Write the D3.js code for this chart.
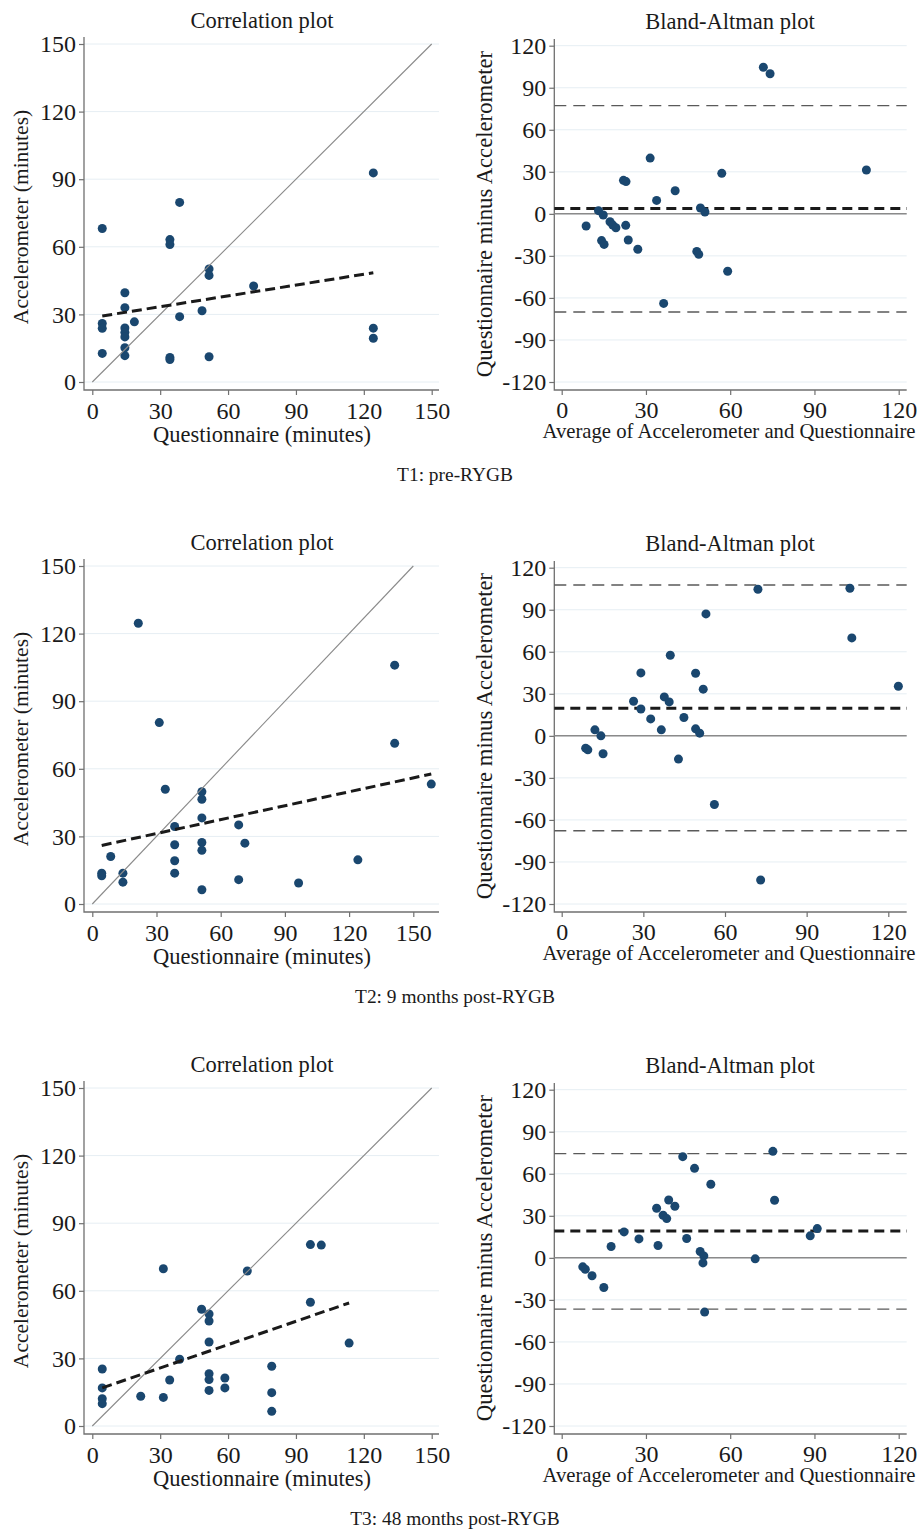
<!DOCTYPE html>
<html>
<head>
<meta charset="utf-8">
<script src="https://cdn.jsdelivr.net/npm/d3@7"></script>
<style>
  body { margin: 0; background: #fff; }
  text { font-family: "Liberation Serif", "DejaVu Serif", serif; fill: #1a1a1a; }
</style>
</head>
<body>
<script>
// ---- data ----
const captions = ["T1: pre-RYGB", "T2: 9 months post-RYGB", "T3: 48 months post-RYGB"];
const corrTicks = [0, 30, 60, 90, 120, 150];
const baXTicks = [0, 30, 60, 90, 120];
const baYTicks = [-120, -90, -60, -30, 0, 30, 60, 90, 120];

// T1
const t1Quest = [4.4, 4.4, 4.4, 4.4, 14.4, 14.4, 14.4, 14.4, 14.4, 14.4, 14.4, 18.6, 34.3, 34.3, 34.3, 34.3, 38.6, 38.6, 48.5, 51.6, 51.6, 51.6, 71.3, 124.2, 124.2, 124.2];
const t1Accel = [68.1, 26, 23.8, 12.7, 39.6, 33, 24, 22, 20, 15.2, 11.7, 26.7, 63.2, 61, 10.9, 10, 79.7, 29, 31.6, 50.2, 47.3, 11.2, 42.6, 92.8, 23.9, 19.4];
const t1FitX = [4.4, 124.2];
const t1FitY = [29.3, 48.5];
const t1Avg = [8.7, 13.1, 14.8, 14.2, 15.1, 17.2, 18.2, 19.3, 22, 22.9, 22.8, 23.7, 27.1, 31.5, 33.8, 36.3, 40.4, 48.1, 48.8, 49.4, 51, 57, 59.1, 71.8, 74.2, 108.5];
const t1Diff = [-8.7, 2.3, -0.8, -19.1, -21.8, -5.6, -8, -9.9, 23.9, 23, -8.2, -18.7, -25.3, 39.8, 9.6, -63.9, 16.5, -26.8, -28.9, 4.2, 1.3, 28.9, -41, 104.6, 100, 31.3];
const t1Limits = [-70, 3.9, 77.2]; // lower LoA, mean difference, upper LoA

// T2
const t2Quest = [4.4, 4.4, 8.6, 14.3, 14.3, 21.5, 31.3, 34.1, 38.5, 38.5, 38.5, 38.5, 51.2, 51.2, 51.2, 51.2, 51.2, 51.2, 68.4, 68.4, 71.3, 96.4, 124.1, 141.3, 141.3, 158.4];
const t2Accel = [13.7, 12.5, 21.1, 13.7, 9.7, 124.6, 80.5, 50.9, 34.4, 26.3, 19.2, 13.7, 49.8, 46.5, 38.2, 27.3, 23.8, 6.3, 35.1, 10.8, 27, 9.3, 19.6, 106, 71.3, 53.2];
const t2FitX = [4.4, 158.4];
const t2FitY = [26, 57.7];
const t2Avg = [8.8, 9.6, 12.2, 14.4, 15.2, 26.4, 29.1, 29.1, 32.7, 36.6, 37.7, 39.5, 39.9, 42.9, 44.9, 49.2, 49.2, 50.7, 52, 53, 56.1, 72.1, 73.1, 105.9, 106.6, 123.7];
const t2Diff = [-8.8, -10, 4.3, 0, -12.8, 24.7, 44.9, 19.2, 12.1, 4.3, 27.8, 24.2, 57.5, -16.6, 13.1, 44.7, 5, 1.9, 33.3, 87, -49, 104.6, -102.9, 105.3, 69.9, 35.4];
const t2Limits = [-67.7, 19.7, 107.7];

// T3
const t3Quest = [4.4, 4.4, 4.4, 4.4, 21.4, 31.4, 31.4, 34.2, 38.6, 48.3, 51.6, 51.6, 51.6, 51.6, 51.6, 51.6, 58.6, 58.6, 68.5, 79.3, 79.3, 79.3, 96.4, 101.2, 96.4, 113.5];
const t3Accel = [25.3, 16.9, 12.1, 9.9, 13.2, 69.8, 12.7, 20.4, 29.6, 51.8, 49.7, 46.6, 37.3, 23.2, 20.6, 15.8, 21.3, 16.9, 68.8, 26.5, 14.8, 6.5, 80.5, 80.3, 54.9, 36.8];
const t3FitX = [4.4, 113.5];
const t3FitY = [16.9, 54.6];
const t3Avg = [7.5, 8.4, 10.8, 15, 17.6, 22.2, 27.5, 33.8, 34.3, 36.1, 37.4, 38.1, 40.3, 43.1, 44.5, 47.3, 49.3, 50.6, 50.3, 50.9, 53.1, 68.9, 75.2, 75.8, 88.5, 91];
const t3Diff = [-6.4, -8.1, -12.8, -21.2, 8.1, 18.5, 13.5, 35.4, 8.8, 30.4, 28, 41.3, 36.8, 72.2, 13.8, 63.9, 4.5, 1.4, -3.6, -38.7, 52.5, -0.7, 76, 41.1, 15.7, 20.9];
const t3Limits = [-36.6, 19.2, 74.4];

const rows = [
  { quest: t1Quest, accel: t1Accel, fitX: t1FitX, fitY: t1FitY, avg: t1Avg, diff: t1Diff, limits: t1Limits },
  { quest: t2Quest, accel: t2Accel, fitX: t2FitX, fitY: t2FitY, avg: t2Avg, diff: t2Diff, limits: t2Limits },
  { quest: t3Quest, accel: t3Accel, fitX: t3FitX, fitY: t3FitY, avg: t3Avg, diff: t3Diff, limits: t3Limits }
];

// ---- layout ----
const w = 921;
const h = 1532;
const rowTop = [0, 522, 1044];
const corrRight = [431.7, 413.3, 431.7];   // pixel of x = 150
const baRight = [898.7, 888.3, 898.7];     // pixel of x = 120

const dotColor = "#1a476f";
const gridColor = "#e6eef3";
const axisColor = "#707070";

const svg = d3.select("body")
  .append("svg")
  .attr("width", w)
  .attr("height", h);

function styleAxis(g) {
  g.select(".domain").remove();
  g.selectAll(".tick line").attr("stroke", axisColor).attr("stroke-width", 1.2);
  g.selectAll(".tick text")
    .attr("font-size", 24)
    .attr("font-family", "Liberation Serif, serif")
    .attr("fill", "#1a1a1a");
}

function frame(g, left, right, top, bottom) {
  g.append("path")
    .attr("d", `M${left},${top}V${bottom}H${right}`)
    .attr("fill", "none")
    .attr("stroke", axisColor)
    .attr("stroke-width", 1.3);
}

// plain hyphen for negative tick labels, as in the figure
const plain = d => String(d);

rows.forEach((row, i) => {
  const g = svg.append("g").attr("transform", `translate(0,${rowTop[i]})`);

  // ---------- correlation plot ----------
  const cx = d3.scaleLinear().domain([0, 150]).range([92.3, corrRight[i]]);
  const cy = d3.scaleLinear().domain([0, 150]).range([382, 44]);
  const cL = 84, cR = 439, cT = 37, cB = 390;

  g.selectAll(".cgrid")
    .data(corrTicks)
    .enter()
    .append("line")
    .attr("x1", cL).attr("x2", cR)
    .attr("y1", d => cy(d)).attr("y2", d => cy(d))
    .attr("stroke", gridColor)
    .attr("stroke-width", 1);

  g.append("g")
    .attr("transform", `translate(${cL},0)`)
    .call(d3.axisLeft(cy).tickValues(corrTicks).tickFormat(plain).tickSize(5).tickPadding(3))
    .call(styleAxis);

  g.append("g")
    .attr("transform", `translate(0,${cB})`)
    .call(d3.axisBottom(cx).tickValues(corrTicks).tickFormat(plain).tickSize(5).tickPadding(7))
    .call(styleAxis);

  frame(g, cL, cR, cT, cB);

  g.selectAll(".cdot")
    .data(row.quest)
    .enter()
    .append("circle")
    .attr("cx", d => cx(d))
    .attr("cy", (d, j) => cy(row.accel[j]))
    .attr("r", 4.5)
    .attr("fill", dotColor);

  // line of equality
  g.append("line")
    .attr("x1", cx(0)).attr("y1", cy(0))
    .attr("x2", cx(150)).attr("y2", cy(150))
    .attr("stroke", "#8a8a8a")
    .attr("stroke-width", 1.1);

  // linear fit
  g.append("line")
    .attr("x1", cx(row.fitX[0])).attr("y1", cy(row.fitY[0]))
    .attr("x2", cx(row.fitX[1])).attr("y2", cy(row.fitY[1]))
    .attr("stroke", "#1a1a1a")
    .attr("stroke-width", 3)
    .attr("stroke-dasharray", "10,5");

  g.append("text")
    .attr("x", 262).attr("y", 28)
    .attr("text-anchor", "middle")
    .attr("font-size", 22.5)
    .text("Correlation plot");

  g.append("text")
    .attr("x", 262).attr("y", 442)
    .attr("text-anchor", "middle")
    .attr("font-size", 22.5)
    .text("Questionnaire (minutes)");

  g.append("text")
    .attr("transform", "translate(28,217) rotate(-90)")
    .attr("text-anchor", "middle")
    .attr("font-size", 21.5)
    .text("Accelerometer (minutes)");

  // ---------- Bland-Altman plot ----------
  const bx = d3.scaleLinear().domain([0, 120]).range([561.7, baRight[i]]);
  const by = d3.scaleLinear().domain([-120, 120]).range([382, 45.7]);
  const bL = 554.3, bR = 906.7, bT = 39, bB = 390;

  g.selectAll(".bgrid")
    .data(baYTicks)
    .enter()
    .append("line")
    .attr("x1", bL).attr("x2", bR)
    .attr("y1", d => by(d)).attr("y2", d => by(d))
    .attr("stroke", gridColor)
    .attr("stroke-width", 1);

  g.append("g")
    .attr("transform", `translate(${bL},0)`)
    .call(d3.axisLeft(by).tickValues(baYTicks).tickFormat(plain).tickSize(5).tickPadding(3))
    .call(styleAxis);

  g.append("g")
    .attr("transform", `translate(0,${bB})`)
    .call(d3.axisBottom(bx).tickValues(baXTicks).tickFormat(plain).tickSize(5).tickPadding(6))
    .call(styleAxis);

  frame(g, bL, bR, bT, bB);

  // zero line
  g.append("line")
    .attr("x1", bL).attr("x2", bR)
    .attr("y1", by(0)).attr("y2", by(0))
    .attr("stroke", "#8a8a8a")
    .attr("stroke-width", 1.5);

  // limits of agreement and mean difference
  g.selectAll(".limit")
    .data(row.limits)
    .enter()
    .append("line")
    .attr("x1", bL).attr("x2", bR)
    .attr("y1", d => by(d)).attr("y2", d => by(d))
    .attr("stroke", (d, j) => j === 1 ? "#1a1a1a" : "#5a5a5a")
    .attr("stroke-width", (d, j) => j === 1 ? 3 : 1.4)
    .attr("stroke-dasharray", (d, j) => j === 1 ? "10,6" : "12,7");

  g.selectAll(".bdot")
    .data(row.avg)
    .enter()
    .append("circle")
    .attr("cx", d => bx(d))
    .attr("cy", (d, j) => by(row.diff[j]))
    .attr("r", 4.5)
    .attr("fill", dotColor);

  g.append("text")
    .attr("x", 730).attr("y", 29)
    .attr("text-anchor", "middle")
    .attr("font-size", 22.5)
    .text("Bland-Altman plot");

  g.append("text")
    .attr("x", 729).attr("y", 438)
    .attr("text-anchor", "middle")
    .attr("font-size", 20.7)
    .text("Average of Accelerometer and Questionnaire");

  g.append("text")
    .attr("transform", "translate(492,214) rotate(-90)")
    .attr("text-anchor", "middle")
    .attr("font-size", 22.7)
    .text("Questionnaire minus Accelerometer");

  // ---------- caption ----------
  g.append("text")
    .attr("x", 455).attr("y", 481)
    .attr("text-anchor", "middle")
    .attr("font-size", 19.4)
    .text(captions[i]);
});
</script>
</body>
</html>
